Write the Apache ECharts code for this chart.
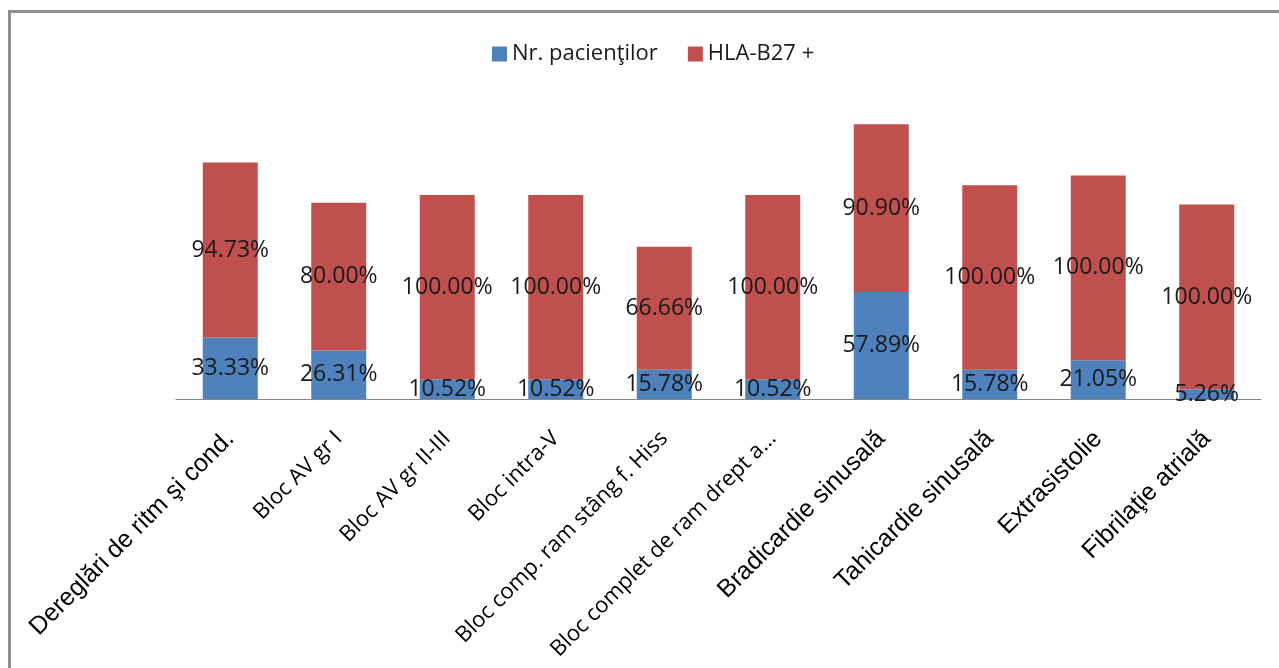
<!DOCTYPE html>
<html>
<head>
<meta charset="utf-8">
<script src="https://cdn.jsdelivr.net/npm/echarts@6/dist/echarts.min.js"></script>
<style>
  html, body { margin: 0; padding: 0; background: #fff; }
  #frame { position: absolute; left: 8px; top: 10px; width: 1300px; height: 700px;
           border-top: 3px solid #8f8f8f; border-left: 3px solid #8f8f8f; box-sizing: border-box; }
  #chart { position: absolute; left: 0; top: 0; width: 1279px; height: 668px; }
</style>
</head>
<body>
<div id="frame"></div>
<div id="chart"></div>
<script>
// categorii afisate pe axa x
const categories = [
  'Dereglări de ritm şi cond.',
  'Bloc AV gr I',
  'Bloc AV gr II-III',
  'Bloc intra-V',
  'Bloc comp. ram stâng f. Hiss',
  'Bloc complet de ram drept a...',
  'Bradicardie sinusală',
  'Tahicardie sinusală',
  'Extrasistolie',
  'Fibrilaţie atrială'
]
// etichetele scrise cu Arial (restul cu font tip Calibri)
const arialLabels = [0, 6, 7, 8, 9]

const pacienti = [33.33, 26.31, 10.52, 10.52, 15.78, 10.52, 57.89, 15.78, 21.05, 5.26]
const hlaB27 = [94.73, 80.00, 100.00, 100.00, 66.66, 100.00, 90.90, 100.00, 100.00, 100.00]

const chart = echarts.init(document.getElementById('chart'))

const labelStyle = {
  show: true,
  position: 'inside',
  color: '#1a1a1a',
  fontFamily: 'Open Sans',
  fontSize: 23,
  formatter: p => p.value.toFixed(2) + '%'
}

const option = {
  animation: false,
  legend: {
    data: ['Nr. pacienţilor', 'HLA-B27 +'],
    left: 487,
    top: 38,
    itemWidth: 15,
    itemHeight: 15,
    itemGap: 30,
    icon: 'rect',
    textStyle: { fontFamily: 'Open Sans', fontSize: 22, color: '#1a1a1a' }
  },
  grid: {
    left: 176,
    right: 18,
    top: 122,
    bottom: 269,
    containLabel: false
  },
  xAxis: {
    type: 'category',
    data: categories,
    axisLine: { lineStyle: { color: '#868686', width: 1 } },
    axisTick: { show: false },
    axisLabel: {
      interval: 0,
      rotate: 45,
      margin: 36,
      color: '#000',
      formatter: (v, i) => (arialLabels.includes(i) ? '{a|' : '{b|') + v + '}',
      rich: {
        a: { fontFamily: 'Liberation Sans', fontSize: 25, color: '#000' },
        b: { fontFamily: 'Open Sans', fontSize: 22, color: '#000' }
      }
    }
  },
  yAxis: {
    type: 'value',
    min: 0,
    max: 150,
    show: false,
    splitLine: { show: false }
  },
  series: [
    {
      name: 'Nr. pacienţilor',
      type: 'bar',
      stack: 'total',
      barWidth: 55,
      data: pacienti,
      itemStyle: { color: '#4F81BD' },
      label: labelStyle
    },
    {
      name: 'HLA-B27 +',
      type: 'bar',
      stack: 'total',
      barWidth: 55,
      data: hlaB27,
      itemStyle: { color: '#C0504D' },
      label: labelStyle
    }
  ]
}

chart.setOption(option)
</script>
</body>
</html>
